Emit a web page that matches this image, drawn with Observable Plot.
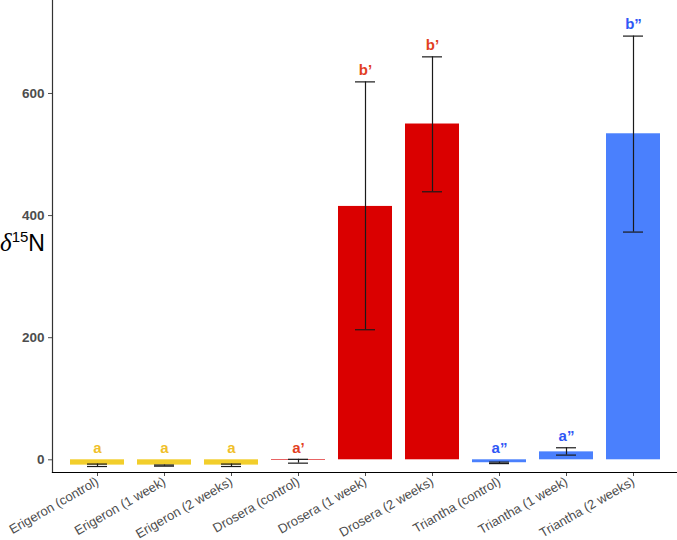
<!DOCTYPE html>
<html>
<head>
<meta charset="utf-8">
<script src="https://cdn.jsdelivr.net/npm/d3@7"></script>
<script src="https://cdn.jsdelivr.net/npm/@observablehq/plot@0.6"></script>
<style>
  html, body { margin: 0; padding: 0; background: #fff; }
  #wrap { position: relative; width: 677px; height: 540px; }
  #ylab { position: absolute; left: 0px; top: 229px; font-family: "Liberation Sans", Arial, sans-serif; font-size: 23px; color: #000; white-space: nowrap; }
  #ylab i { font-family: "Liberation Serif", "DejaVu Serif", serif; font-size: 25px; }
  #ylab sup { font-size: 15px; vertical-align: 9px; line-height: 0; }
</style>
</head>
<body>
<div id="wrap">
  <div id="chart"></div>
  <div id="ylab"><i>δ</i><sup>15</sup>N</div>
</div>
<script>
const categories = [
  "Erigeron (control)", "Erigeron (1 week)", "Erigeron (2 weeks)",
  "Drosera (control)", "Drosera (1 week)", "Drosera (2 weeks)",
  "Triantha (control)", "Triantha (1 week)", "Triantha (2 weeks)"
];
const groups = ["Erigeron", "Erigeron", "Erigeron", "Drosera", "Drosera", "Drosera", "Triantha", "Triantha", "Triantha"];
const means = [-8.7, -8.7, -8.7, -1, 415, 550, -4.8, 13, 534];
const errLow = [-11, -10.4, -11, -5.5, 213, 439, -6.2, 7.7, 373];
const errHigh = [-7, -8.6, -7, 0.8, 619, 660, -3.8, 19.7, 694];
const letters = ["a", "a", "a", "a\u2019", "b\u2019", "b\u2019", "a\u201D", "a\u201D", "b\u201D"];
const yTicks = [0, 200, 400, 600];

const groupNames = ["Erigeron", "Drosera", "Triantha"];
const barColors = ["#F2CE2B", "#DA0000", "#4A80FD"];
const textColors = ["#F0BF2A", "#E2401F", "#2F57F5"];

const data = categories.map((c, i) => ({
  cat: c, group: groups[i], mean: means[i], lo: errLow[i], hi: errHigh[i],
  letter: letters[i], labelY: Math.max(errHigh[i], 0) + 19,
  textColor: textColors[groupNames.indexOf(groups[i])]
}));

const chart = Plot.plot({
  width: 677,
  height: 540,
  marginLeft: 52,
  marginRight: 0,
  marginTop: 0,
  marginBottom: 68,
  style: { fontFamily: "'Liberation Sans', Arial, sans-serif", background: "#fff" },
  x: { domain: categories, paddingInner: 0.2, paddingOuter: 0.2, label: null },
  y: { domain: [-20.8, 752.3], label: null },
  color: { domain: groupNames, range: barColors },
  marks: [
    Plot.barY(data, { x: "cat", y: "mean", fill: "group" }),
    Plot.ruleX(data, { x: "cat", y1: "lo", y2: "hi", stroke: "#1a1a1a", strokeWidth: 1.2 }),
    Plot.tickY(data, { x: "cat", y: "lo", stroke: "#1a1a1a", strokeWidth: 1.2, insetLeft: 17, insetRight: 17 }),
    Plot.tickY(data, { x: "cat", y: "hi", stroke: "#1a1a1a", strokeWidth: 1.2, insetLeft: 17, insetRight: 17 }),
    Plot.text(data, { x: "cat", y: "labelY", text: "letter", fill: "textColor", fontWeight: "bold", fontSize: 15 }),
    Plot.axisY({ ticks: yTicks, tickSize: 4, tickPadding: 4, fontSize: 13.5, fontWeight: "bold", color: "#4d4d4d", label: null }),
    Plot.axisX({ tickSize: 4, tickPadding: 4, tickRotate: -30, fontSize: 13, color: "#4d4d4d", label: null }),
    Plot.frame({ anchor: "left", stroke: "#333", strokeWidth: 1.2 }),
    Plot.frame({ anchor: "bottom", stroke: "#000", strokeWidth: 1.2 })
  ]
});
document.getElementById("chart").appendChild(chart);
</script>
</body>
</html>
